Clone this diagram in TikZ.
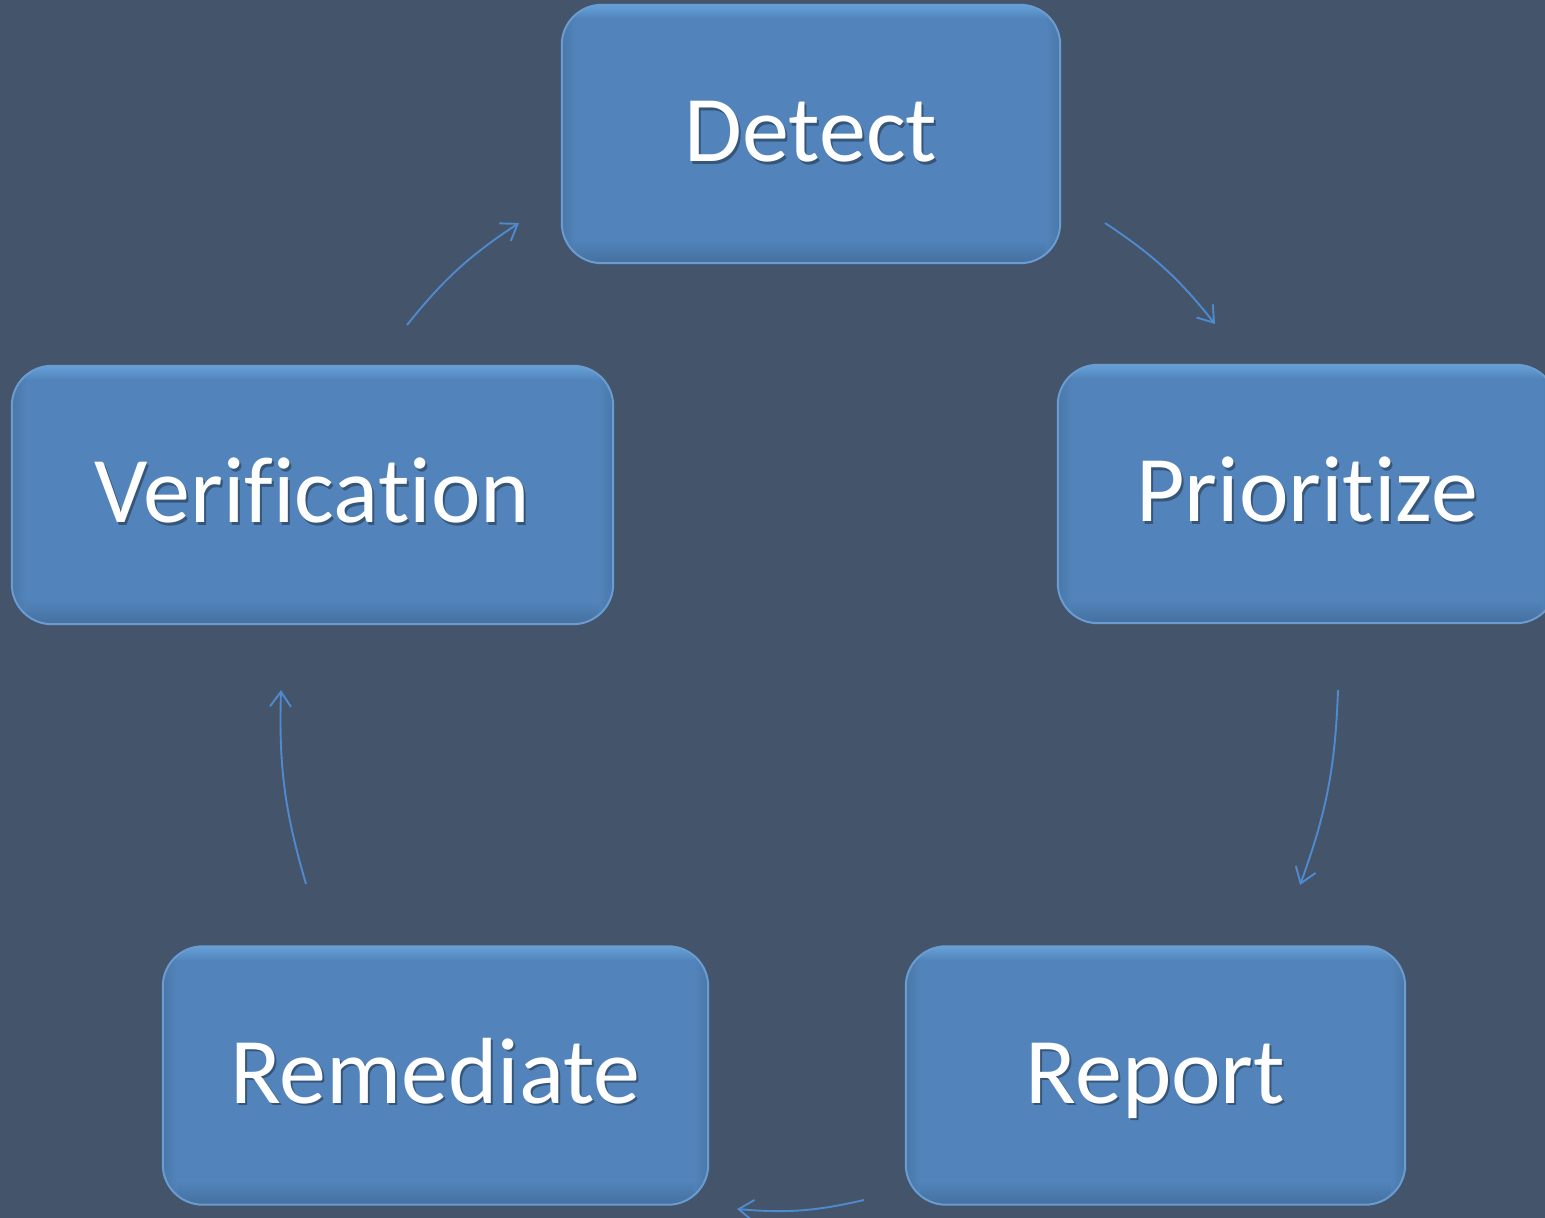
\documentclass[tikz,border=0pt]{standalone}
\usepackage{fontspec}
\setmainfont{Carlito}[Ligatures=NoCommon]
\usetikzlibrary{arrows.meta}

\definecolor{bg}{HTML}{44546A}
\definecolor{boxfill}{HTML}{5284BB}
\definecolor{boxrim}{HTML}{6A9CD2}
\definecolor{boxdark}{HTML}{44709F}
\definecolor{boxlight}{HTML}{64A0D8}
\definecolor{flow}{HTML}{4F8ACF}

\tikzset{
  stage/.style={rounded corners=40pt, fill=boxfill, inner sep=0pt,
    minimum height=258pt},
  stagerim/.style={rounded corners=40pt, draw=boxrim, line width=2pt},
  stagetext/.style={text=white, inner sep=0pt,
    font=\fontsize{94}{100}\selectfont, text height=66pt, text depth=10pt},
  flowarrow/.style={draw=flow, line width=1.9pt,
    -{Straight Barb[length=15pt,width=21pt]}, bend left=9}
}

% one rounded stage box: name, x, y, width, label
\newcommand\stagebox[5]{%
  \node[stage, minimum width=#4pt] (#1) at (#2,#3) {};
  \begin{scope}
    \clip[rounded corners=40pt] (#1.south west) rectangle (#1.north east);
    \shade[top color=boxfill, bottom color=boxdark]
      (#1.south west) rectangle ([yshift=24pt]#1.south east);
    \shade[top color=boxlight, bottom color=boxfill]
      ([yshift=-14pt]#1.north west) rectangle (#1.north east);
    \shade[left color=boxdark, right color=boxfill, opacity=0.6]
      (#1.south west) rectangle ([xshift=14pt]#1.north west);
    \shade[left color=boxfill, right color=boxdark, opacity=0.6]
      ([xshift=-14pt]#1.south east) rectangle (#1.north east);
  \end{scope}
  \draw[stagerim] (#1.south west) rectangle (#1.north east);
  \node[stagetext, text=black, opacity=0.35]
    at ([shift={(2pt,-2.5pt)}]#1.center) {#5};
  \node[stagetext] (#1-text) at (#1.center) {#5};
}

\begin{document}
\begin{tikzpicture}[x=1pt, y=1pt]
  \useasboundingbox (0,0) rectangle (1545,1218);
  \clip (0,0) rectangle (1545,1218);
  \fill[bg] (0,0) rectangle (1545,1218);

  % stages of the cycle
  \stagebox{detect}{811}{1084}{498}{Detect}
  \stagebox{prioritize}{1307}{724}{498}{Prioritize}
  \stagebox{report}{1155.5}{142.5}{499}{Report}
  \stagebox{remediate}{435.5}{142.5}{545}{Remediate}
  \stagebox{verification}{312.5}{723}{601}{Verification}

  % free ends of the curved arrows between stages
  \coordinate (a1s) at (1105,995);  \coordinate (a1e) at (1215,894);
  \coordinate (a2s) at (1338,528);  \coordinate (a2e) at (1300,333);
  \coordinate (a3s) at (864,18);    \coordinate (a3e) at (737,9);
  \coordinate (a4s) at (306,334);   \coordinate (a4e) at (281,528);
  \coordinate (a5s) at (407,893);   \coordinate (a5e) at (519,995);

  \draw[flowarrow] (a1s) to (a1e);
  \draw[flowarrow] (a2s) to (a2e);
  \draw[flowarrow] (a3s) to (a3e);
  \draw[flowarrow] (a4s) to (a4e);
  \draw[flowarrow] (a5s) to (a5e);
\end{tikzpicture}
\end{document}
